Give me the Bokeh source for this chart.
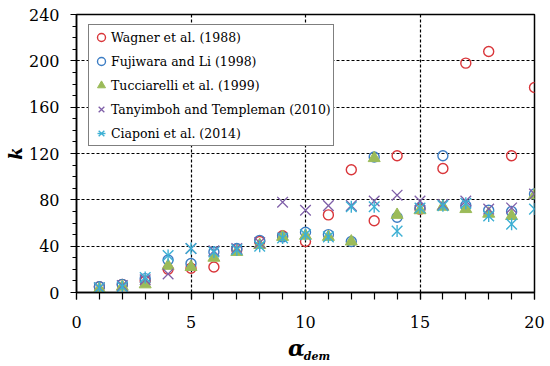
import math
from bokeh.plotting import figure
from bokeh.models import (SingleIntervalTicker, FixedTicker, Legend, LegendItem, Range1d, LinearAxis)
from bokeh.embed import file_html
from bokeh.resources import INLINE

# ---- data ----
alpha_dem = list(range(1, 21))
wagner = [5, 7, 10, 20, 21, 22, 37, 44, 49, 44, 67, 106, 62, 118, 72, 107, 198, 208, 118, 177]
fujiwara = [5, 7, 12, 28, 25, 35, 38, 45, 48, 52, 50, 44, 117, 65, 73, 118, 75, 71, 70, 85]
tucciarelli = [3, 5, 7, 23, 22, 30, 35, 41, 48, 49, 48, 44, 116, 67, 71, 74, 72, 68, 66, 84]
tanyimboh = [4, 6, 11, 16, 38, 36, 38, 43, 78, 71, 75, 75, 79, 84, 79, 76, 79, 72, 73, 85]
ciaponi = [4, 5, 13, 32, 38, 35, 37, 40, 47, 50, 48, 74, 74, 53, 73, 75, 77, 66, 59, 72]

series_names = ["Wagner et al. (1988)", "Fujiwara and Li (1998)", "Tucciarelli et al. (1999)",
                "Tanyimboh and Templeman (2010)", "Ciaponi et al. (2014)"]
x_ticks_interval = 5
y_ticks_interval = 40
x_title_main = "α"
x_title_sub = "dem"
y_title = "k"

FONT = "DejaVu Serif"

p = figure(width=548, height=366, output_backend="svg", toolbar_location=None,
           x_range=Range1d(0, 20), y_range=Range1d(0, 240),
           min_border_left=76, min_border_right=14, min_border_top=14, min_border_bottom=74)
p.background_fill_color = "white"
p.border_fill_color = "white"
p.outline_line_color = "black"
p.outline_line_width = 1.5
p.outline_line_alpha = 1.0

# axes
p.xaxis.ticker = SingleIntervalTicker(interval=x_ticks_interval, num_minor_ticks=5)
p.yaxis.ticker = SingleIntervalTicker(interval=y_ticks_interval, num_minor_ticks=4)
for ax in (p.xaxis[0], p.yaxis[0]):
    ax.axis_line_color = "black"
    ax.axis_line_width = 1.5
    ax.major_tick_line_color = "black"
    ax.minor_tick_line_color = "black"
    ax.major_tick_line_width = 1.2
    ax.minor_tick_line_width = 1.2
    ax.major_label_text_font = FONT
    ax.major_label_text_font_size = "16px"
    ax.major_label_text_color = "black"
p.xaxis.major_tick_out = 7
p.xaxis.major_tick_in = 0
p.xaxis.minor_tick_out = 7
p.xaxis.minor_tick_in = 0
p.xaxis.major_label_standoff = 16
p.yaxis.major_tick_out = 6
p.yaxis.major_tick_in = 3
p.yaxis.minor_tick_out = 4
p.yaxis.minor_tick_in = 0
p.yaxis.major_label_standoff = 11
p.yaxis.axis_label = y_title
p.yaxis.axis_label_text_font = FONT
p.yaxis.axis_label_text_font_size = "18px"
p.yaxis.axis_label_text_font_style = "bold italic"
p.yaxis.axis_label_text_color = "black"
p.yaxis.axis_label_standoff = 0

# x-axis title built from two label-only axes (alpha + subscript "dem")
p.extra_x_ranges = {"lab": Range1d(0, 200)}


def label_axis(pos, txt, size, standoff):
    ax = LinearAxis(x_range_name="lab", ticker=FixedTicker(ticks=[pos], minor_ticks=[]),
                    major_label_overrides={pos: txt})
    ax.axis_line_color = None
    ax.major_tick_line_color = None
    ax.minor_tick_line_color = None
    ax.major_tick_out = 0
    ax.major_tick_in = 0
    ax.minor_tick_out = 0
    ax.minor_tick_in = 0
    ax.major_label_standoff = standoff
    ax.major_label_text_font = FONT
    ax.major_label_text_font_size = size
    ax.major_label_text_font_style = "bold italic"
    ax.major_label_text_color = "black"
    return ax


p.add_layout(label_axis(96, x_title_main, "22px", 4), "below")
p.add_layout(label_axis(105, x_title_sub, "11px", -14), "below")

# grid
for g in (p.xgrid[0], p.ygrid[0]):
    g.grid_line_color = "black"
    g.grid_line_dash = "3 2"
    g.grid_line_width = 1.2

# series
r1 = p.scatter(alpha_dem, wagner, marker="circle", size=10, fill_color=None,
               line_color="#D9363A", line_width=1.4)
r2 = p.scatter(alpha_dem, fujiwara, marker="circle", size=10, fill_color=None,
               line_color="#3C7DC4", line_width=1.4)
r3 = p.scatter(alpha_dem, tucciarelli, marker="triangle", size=12, fill_color="#9BBB59",
               line_color="#9BBB59", line_width=1)
r4 = p.scatter(alpha_dem, tanyimboh, marker="x", size=15, line_color="#7F5FA8", line_width=1.3)
r5a = p.scatter(alpha_dem, ciaponi, marker="x", size=15, line_color="#3DB0D4", line_width=1.4)
r5b = p.scatter(alpha_dem, ciaponi, marker="dash", size=12, angle=math.pi / 2,
                line_color="#3DB0D4", line_width=1.4)

legend = Legend(items=[LegendItem(label=n, renderers=r) for n, r in
                       zip(series_names, [[r1], [r2], [r3], [r4], [r5a, r5b]])],
                location=(12, 146), orientation="vertical")
legend.margin = 0
legend.padding = 2
legend.spacing = 4
legend.glyph_width = 20
legend.glyph_height = 20
legend.label_height = 20
legend.label_standoff = 0
legend.label_text_font = FONT
legend.label_text_font_size = "12.5px"
legend.label_text_color = "black"
legend.border_line_color = "black"
legend.border_line_width = 1.5
legend.background_fill_color = "white"
legend.background_fill_alpha = 1.0
p.add_layout(legend, "center")

open("out.html", "w").write(file_html(p, INLINE))
